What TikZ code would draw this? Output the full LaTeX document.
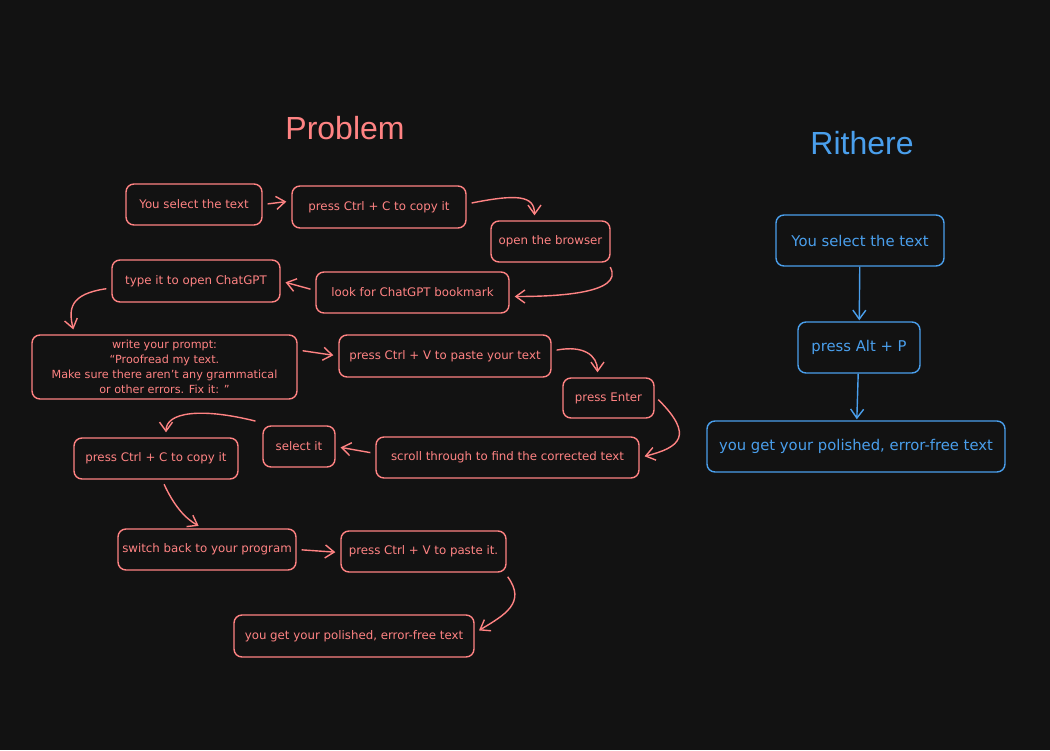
\documentclass[tikz,border=0pt]{standalone}
\usepackage{fontspec}
\setmainfont{DejaVu Sans}
\newfontfamily\titlefont{Liberation Sans}
\usepackage{xcolor}
\usetikzlibrary{arrows.meta, positioning, calc}

\definecolor{bgdark}{HTML}{121212}
\definecolor{salmon}{HTML}{FF8383}
\definecolor{skyblue}{HTML}{4A9FEC}

\begin{document}
\begin{tikzpicture}[x=1pt, y=-1pt,
    box/.style={rectangle, draw, rounded corners=8pt, line width=1.4pt, minimum height=41pt, inner sep=2pt, font=\fontsize{11.8}{15}\selectfont},
    redbox/.style={box, draw=salmon, text=salmon},
    bluebox/.style={box, draw=skyblue, text=skyblue, minimum height=51pt, font=\fontsize{14.8}{17}\selectfont},
    arrow/.style={-{Straight Barb[length=9pt, width=13pt]}, line width=1.4pt, shorten <=5pt, shorten >=5pt},
    redarrow/.style={arrow, draw=salmon},
    bluearrow/.style={arrow, draw=skyblue, shorten <=0pt, shorten >=1pt},
    title/.style={font=\titlefont\fontsize{32}{36}\selectfont}
]

% Background
\fill[bgdark] (0,0) rectangle (1050,750);
\useasboundingbox (0,0) rectangle (1050,750);

% Titles
\node[title, text=salmon] (problem) at (345,128) {Problem};
\node[title, text=skyblue] (rithere) at (862,143) {Rithere};

% Problem steps
\node[redbox, minimum width=136pt] (select) at (194,204.5) {You select the text};
\node[redbox, minimum width=174pt, minimum height=42pt] (copy) at (379,207) {press Ctrl + C to copy it};
\node[redbox, minimum width=119pt] (browser) at (550.5,241.5) {open the browser};
\node[redbox, minimum width=193pt] (bookmark) at (412.5,292.5) {look for ChatGPT bookmark};
\node[redbox, minimum width=168pt, minimum height=42pt] (chatgpt) at (196,281) {type it to open ChatGPT};
\node[redbox, minimum width=265pt, minimum height=64pt, align=center, font=\fontsize{11.2}{15}\selectfont] (prompt) at (164.5,367)
    {write your prompt:\\“Proofread my text.\\Make sure there aren’t any grammatical\\or other errors. Fix it: ”};
\node[redbox, minimum width=212pt, minimum height=42pt] (paste) at (445,356) {press Ctrl + V to paste your text};
\node[redbox, minimum width=91pt, minimum height=40pt] (enter) at (608.5,398) {press Enter};
\node[redbox, minimum width=263pt] (scroll) at (507.5,457.5) {scroll through to find the corrected text};
\node[redbox, minimum width=72pt] (selectit) at (299,446.5) {select it};
\node[redbox, minimum width=164pt] (copyagain) at (156,458.5) {press Ctrl + C to copy it};
\node[redbox, minimum width=178pt] (switch) at (207,549.5) {switch back to your program};
\node[redbox, minimum width=165pt] (pasteit) at (423.5,551.5) {press Ctrl + V to paste it.};
\node[redbox, minimum width=240pt, minimum height=42pt] (result) at (354,636) {you get your polished, error-free text};

% Rithere steps
\node[bluebox, minimum width=168pt] (rselect) at (860,240.5) {You select the text};
\node[bluebox, minimum width=122pt] (rpress) at (859,347.5) {press Alt + P};
\node[bluebox, minimum width=298pt] (rresult) at (856,446.5) {you get your polished, error-free text};

% Problem arrows
\draw[redarrow] (select.east) -- ($(copy.west)+(0,-6)$);
\draw[redarrow] ($(copy.east)+(0,-3)$) .. controls +(50,-10) and +(0,-25) .. ($(browser.north)+(-16,0)$);
\draw[redarrow] ($(browser.south east)+(-3,0)$) .. controls +(18,32) and +(40,0) .. ($(bookmark.east)+(0,4)$);
\draw[redarrow] ($(bookmark.west)+(0,-2)$) -- (chatgpt.east);
\draw[redarrow] ($(chatgpt.west)+(0,7)$) .. controls +(-42,6) and +(-6,-25) .. ($(prompt.north)+(-90,0)$);
\draw[redarrow] ($(prompt.east)+(0,-17)$) -- ($(paste.west)+(0,0)$);
\draw[redarrow] ($(paste.east)+(0,-5)$) .. controls +(32,-6) and +(0,-22) .. ($(enter.north)+(-11,0)$);
\draw[redarrow] ($(enter.east)+(0,-2)$) .. controls +(40,40) and +(40,-10) .. (scroll.east);
\draw[redarrow] ($(scroll.west)+(0,-4)$) -- (selectit.east);
\draw[redarrow] ($(selectit.north west)+(-2,-3)$) .. controls +(-60,-15) and +(0,-25) .. ($(copyagain.north)+(10,0)$);
\draw[redarrow] ($(copyagain.south)+(6,0)$) .. controls +(12,26) and +(-18,-10) .. ($(switch.north)+(-4,0)$);
\draw[redarrow] (switch.east) -- ($(pasteit.west)+(0,1)$);
\draw[redarrow] ($(pasteit.south east)+(-2,0)$) .. controls +(22,30) and +(30,-18) .. ($(result.east)+(0,-3)$);

% Rithere arrows
\draw[bluearrow] (rselect) -- (rpress);
\draw[bluearrow] (rpress) -- (rresult);

\end{tikzpicture}
\end{document}
